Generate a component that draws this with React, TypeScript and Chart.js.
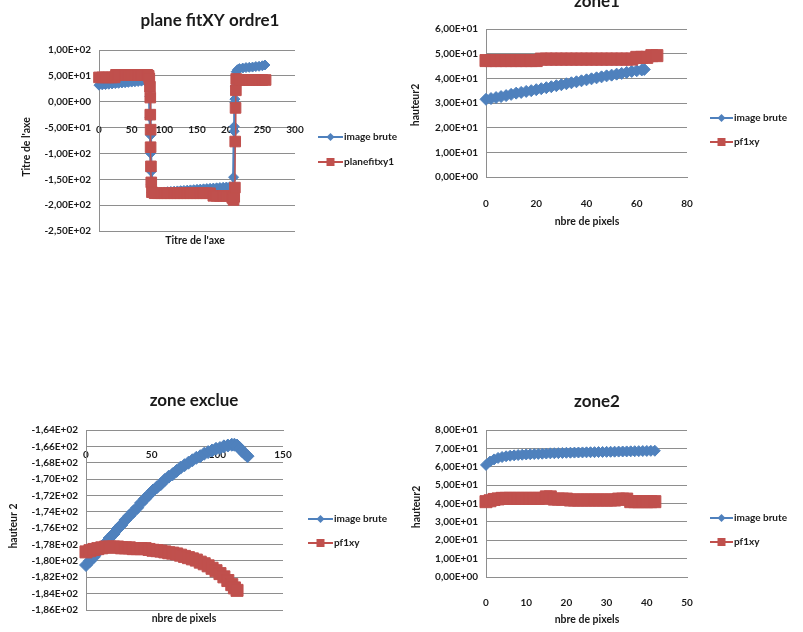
import React, { useEffect, useRef } from "react";
import { Chart, registerables } from "chart.js";

Chart.register(...registerables);

const BLUE = "#4F81BD";
const RED = "#C0504D";
const GRID = "#8E8E8E";
const TEXT = "#1a1a1a";
const FONT = "Lato";

// ---------- Chart 1 : plane fitXY ordre1 ----------
const p1BlueX = [0, 5, 10, 15, 20, 25, 30, 35, 40, 45, 50, 55, 60, 65, 70, 75,
  77, 78, 78, 79, 79, 80, 80, 81,
  85, 90, 95, 100, 105, 110, 115, 120, 125, 130, 135, 140, 145, 150, 155, 160, 165, 170, 175, 180, 185, 190, 195, 200, 205,
  206, 207, 207, 208, 208, 209,
  210, 212, 215, 220, 225, 230, 235, 240, 245, 250, 254];
const p1BlueY = [32, 32.6, 33.2, 33.8, 34.4, 35, 35.6, 36.2, 36.8, 37.4, 38, 38.6, 39.2, 39.8, 40.4, 41,
  35, 10, -30, -65, -100, -135, -160, -176,
  -176, -175.5, -175, -174.5, -174, -173.5, -173, -172.5, -172, -171.5, -171, -170.5, -170, -169.5, -169, -168.5, -168, -167.5, -167, -166.5, -166, -165.5, -165, -164.5, -164,
  -146, -57, -48, -2, 5, 30,
  58, 62, 64, 65, 66, 66.5, 67, 68, 68.5, 69.5, 71];
const p1RedX = [0, 5, 10, 15, 20, 24,
  26, 30, 35, 40, 45, 50, 55, 60, 65, 70, 74,
  76, 77, 78, 78.5, 78.5, 79, 79, 79.5, 80, 81,
  85, 90, 95, 100, 105, 110, 115, 120, 125, 130, 135, 140, 145, 150, 155, 160, 165, 170,
  175, 180, 185, 190, 195, 200, 204, 206, 207, 208,
  208.5, 209, 209.5, 210,
  215, 220, 225, 230, 235, 240, 245, 250, 255];
const p1RedY = [47, 47, 47, 47, 47, 47,
  52, 52, 52, 52, 52, 52, 52, 52, 52, 52, 52,
  50, 45, 29, 8, -25, -54, -88, -125, -156, -175,
  -177, -177, -177, -177, -177, -177, -177, -177, -177, -177, -177, -177, -177, -177, -177, -177, -177, -177,
  -182, -182, -182, -182, -182, -182, -186, -190, -184, -166,
  -77, -12, 22, 44,
  42, 42, 42, 42, 42, 42, 42, 42, 42];

// ---------- Chart 2 : zone1 ----------
const z1BlueX = [0, 2, 4, 6, 8, 10, 12, 14, 16, 18, 20, 22, 24, 26, 28, 30, 32, 34, 36, 38, 40, 42, 44, 46, 48, 50, 52, 54, 56, 58, 60, 62, 63];
const z1BlueY = [31.5, 31.8, 32.2, 32.6, 33.0, 33.5, 34.0, 34.3, 34.7, 35.0, 35.4, 35.8, 36.2, 36.6, 37.0, 37.4, 37.8, 38.2, 38.6, 39.0, 39.4, 39.8, 40.2, 40.6, 41.0, 41.3, 41.7, 42.0, 42.4, 42.8, 43.1, 43.4, 43.6];
const z1RedX = [0, 2, 4, 6, 8, 10, 12, 14, 16, 18, 20, 22, 24, 26, 28, 30, 32, 34, 36, 38, 40, 42, 44, 46, 48, 50, 52, 54, 56, 58, 60, 62, 64, 66, 68];
const z1RedY = [47.2, 47.2, 47.2, 47.2, 47.2, 47.2, 47.2, 47.2, 47.2, 47.2, 47.2,
  47.8, 47.8, 47.8, 47.8, 47.8, 47.8, 47.8, 47.8, 47.8, 47.8, 47.8, 47.8, 47.8, 47.8, 47.8, 47.8, 47.8, 47.8, 47.8,
  48.5, 48.5, 48.5, 49.2, 49.2];

// ---------- Chart 3 : zone exclue ----------
const zeBlueX = [0, 3, 6, 9, 12, 15, 18, 21, 24, 27, 30, 33, 36, 39, 42, 45, 48, 51, 54, 57, 60, 63, 66, 69, 72, 75, 78, 81, 84, 87, 90, 93, 96, 99, 102, 105, 108, 111, 113, 115, 117, 119, 121, 123];
const zeBlueY = [-180.5, -180.0, -179.5, -178.9, -178.4, -177.8, -177.2, -176.7, -176.1, -175.6, -175.0, -174.5, -174.0, -173.5, -172.9, -172.4, -171.9, -171.4, -171.0, -170.6, -170.1, -169.7, -169.4, -169.0, -168.6, -168.3, -168.0, -167.7, -167.4, -167.2, -166.9, -166.7, -166.5, -166.3, -166.2, -166.0, -165.9, -165.8, -165.8, -165.9, -166.2, -166.6, -166.9, -167.2];
const zeRedX = [0, 3, 6, 9, 12, 15, 18, 21, 24, 27, 30, 33, 36, 39, 42, 45, 48, 51, 54, 57, 60, 63, 66, 69, 72, 75, 78, 81, 84, 87, 90, 93, 96, 99, 102, 105, 108, 111, 113, 115];
const zeRedY = [-178.9, -178.75, -178.6, -178.5, -178.4, -178.3, -178.3, -178.3, -178.3, -178.4, -178.4, -178.4, -178.5, -178.5, -178.5, -178.5, -178.6, -178.7, -178.75, -178.8, -178.9, -179.0, -179.05, -179.15, -179.3, -179.45, -179.6, -179.75, -179.9, -180.15, -180.35, -180.6, -180.9, -181.2, -181.55, -181.95, -182.4, -182.9, -183.3, -183.6];

// ---------- Chart 4 : zone2 ----------
const z2BlueX = [0, 1, 2, 3, 4, 5, 6, 7, 8, 9, 10, 11, 12, 13, 14, 15, 16, 17, 18, 19, 20, 21, 22, 23, 24, 25, 26, 27, 28, 29, 30, 31, 32, 33, 34, 35, 36, 37, 38, 39, 40, 41, 42];
const z2BlueY = [61, 62.8, 64, 64.8, 65.3, 65.7, 66, 66.2, 66.4, 66.55,
  66.7, 66.8, 66.9, 67, 67.1, 67.2, 67.3, 67.35, 67.4, 67.5,
  67.6, 67.65, 67.7, 67.75, 67.8, 67.85, 67.9, 67.95, 68, 68.05,
  68.1, 68.15, 68.2, 68.25, 68.3, 68.35, 68.4, 68.45, 68.5, 68.55,
  68.6, 68.65, 68.7];
const z2RedX = [0, 1, 2, 3, 4, 5, 6, 7, 8, 9, 10, 11, 12, 13, 14, 15, 16, 17, 18, 19, 20, 21, 22, 23, 24, 25, 26, 27, 28, 29, 30, 31, 32, 33, 34, 35, 36, 37, 38, 39, 40, 41, 42];
const z2RedY = [41, 41.5, 42.2, 42.5, 42.8,
  42.8, 42.8, 42.8, 42.8, 42.8, 42.8, 42.8, 42.8, 42.8, 42.8,
  43.6, 43.6,
  42.4, 42.4, 42.4, 42.4,
  41.9, 41.9, 41.9, 41.9, 41.9, 41.9, 41.9, 41.9, 41.9, 41.9, 41.9, 41.9,
  42.4, 42.4, 42.4,
  41, 41, 41, 41, 41, 41, 41];

const LABEL_BRUTE = "image brute";

function sci(v: number): string {
  const s = Number(v).toExponential(2);
  const [m, e] = s.split("e");
  const n = parseInt(e, 10);
  const sign = n < 0 ? "-" : "+";
  const ex = String(Math.abs(n)).padStart(2, "0");
  return m.replace(".", ",") + "E" + sign + ex;
}

type Series = {
  label: string; xs: number[]; ys: number[]; color: string;
  style: "rectRot" | "rect"; radius: number; lineWidth: number; order: number;
};

type PanelDef = {
  left: number; top: number; width: number; height: number;
  area: { left: number; top: number; right: number; bottom: number };
  x: { min: number; max: number; step: number; at: number; pad: number };
  y: { min: number; max: number; step: number };
  series: Series[];
  title: string; titlePos: [number, number];
  xTitle: string; xTitlePos: [number, number];
  yTitle: string; yTitlePos: [number, number];
  legend: { x0: number; x1: number; ys: number[]; r: number };
};

const PANELS: PanelDef[] = [
  {
    left: 0, top: 0, width: 400, height: 260,
    area: { left: 99, top: 50, right: 295, bottom: 231 },
    x: { min: 0, max: 300, step: 50, at: 0, pad: 14 },
    y: { min: -250, max: 100, step: 50 },
    series: [
      { label: LABEL_BRUTE, xs: p1BlueX, ys: p1BlueY, color: BLUE, style: "rectRot", radius: 5, lineWidth: 3, order: 1 },
      { label: "planefitxy1", xs: p1RedX, ys: p1RedY, color: RED, style: "rect", radius: 7.5, lineWidth: 1.5, order: 0 },
    ],
    title: "plane fitXY ordre1", titlePos: [210, 26],
    xTitle: "Titre de l'axe", xTitlePos: [195, 241],
    yTitle: "Titre de l'axe", yTitlePos: [27, 147],
    legend: { x0: 318, x1: 343, ys: [137, 162], r: 4 },
  },
  {
    left: 400, top: 0, width: 403, height: 240,
    area: { left: 86, top: 29, right: 287, bottom: 177 },
    x: { min: 0, max: 80, step: 20, at: 0, pad: 13 },
    y: { min: 0, max: 60, step: 10 },
    series: [
      { label: LABEL_BRUTE, xs: z1BlueX, ys: z1BlueY, color: BLUE, style: "rectRot", radius: 6, lineWidth: 3, order: 1 },
      { label: "pf1xy", xs: z1RedX, ys: z1RedY, color: RED, style: "rect", radius: 8.5, lineWidth: 2, order: 0 },
    ],
    title: "zone1", titlePos: [197, 7],
    xTitle: "nbre de pixels", xTitlePos: [187, 222],
    yTitle: "hauteur2", yTitlePos: [16, 105],
    legend: { x0: 310, x1: 333, ys: [118, 142], r: 4 },
  },
  {
    left: 0, top: 380, width: 400, height: 252,
    area: { left: 86, top: 50, right: 283, bottom: 230 },
    x: { min: 0, max: 150, step: 50, at: -164, pad: 10.5 },
    y: { min: -186, max: -164, step: 2 },
    series: [
      { label: LABEL_BRUTE, xs: zeBlueX, ys: zeBlueY, color: BLUE, style: "rectRot", radius: 6.5, lineWidth: 3, order: 1 },
      { label: "pf1xy", xs: zeRedX, ys: zeRedY, color: RED, style: "rect", radius: 8.5, lineWidth: 2, order: 0 },
    ],
    title: "zone exclue", titlePos: [194, 26],
    xTitle: "nbre de pixels", xTitlePos: [184, 239],
    yTitle: "hauteur 2", yTitlePos: [14, 146],
    legend: { x0: 308, x1: 333, ys: [139, 163], r: 4 },
  },
  {
    left: 400, top: 380, width: 403, height: 252,
    area: { left: 86, top: 50, right: 287, bottom: 197 },
    x: { min: 0, max: 50, step: 10, at: 0, pad: 11.5 },
    y: { min: 0, max: 80, step: 10 },
    series: [
      { label: LABEL_BRUTE, xs: z2BlueX, ys: z2BlueY, color: BLUE, style: "rectRot", radius: 5.5, lineWidth: 3, order: 1 },
      { label: "pf1xy", xs: z2RedX, ys: z2RedY, color: RED, style: "rect", radius: 8.5, lineWidth: 2, order: 0 },
    ],
    title: "zone2", titlePos: [197, 27],
    xTitle: "nbre de pixels", xTitlePos: [187, 240],
    yTitle: "hauteur2", yTitlePos: [17, 127],
    legend: { x0: 310, x1: 333, ys: [138, 162], r: 4 },
  },
];

function drawMarker(ctx: CanvasRenderingContext2D, style: string, cx: number, cy: number, r: number, color: string) {
  ctx.fillStyle = color;
  ctx.beginPath();
  if (style === "rectRot") {
    ctx.moveTo(cx, cy - r);
    ctx.lineTo(cx + r, cy);
    ctx.lineTo(cx, cy + r);
    ctx.lineTo(cx - r, cy);
    ctx.closePath();
  } else {
    ctx.rect(cx - r, cy - r, 2 * r, 2 * r);
  }
  ctx.fill();
}

function decoPlugin(p: PanelDef) {
  return {
    id: "deco",
    afterDraw(chart: any) {
      const ctx: CanvasRenderingContext2D = chart.ctx;
      ctx.save();
      ctx.fillStyle = TEXT;
      ctx.textAlign = "center";
      ctx.textBaseline = "alphabetic";
      ctx.font = `bold 17px ${FONT}`;
      ctx.fillText(p.title, p.titlePos[0], p.titlePos[1]);

      ctx.font = `bold 10.5px ${FONT}`;
      ctx.textBaseline = "middle";
      ctx.fillText(p.xTitle, p.xTitlePos[0], p.xTitlePos[1]);
      ctx.save();
      ctx.translate(p.yTitlePos[0], p.yTitlePos[1]);
      ctx.rotate(-Math.PI / 2);
      ctx.fillText(p.yTitle, 0, 0);
      ctx.restore();

      const lg = p.legend;
      p.series.forEach((s, i) => {
        const y = lg.ys[i];
        ctx.strokeStyle = s.color;
        ctx.lineWidth = 2;
        ctx.beginPath();
        ctx.moveTo(lg.x0, y);
        ctx.lineTo(lg.x1, y);
        ctx.stroke();
        drawMarker(ctx, s.style, (lg.x0 + lg.x1) / 2, y, lg.r, s.color);
        ctx.fillStyle = TEXT;
        ctx.textAlign = "left";
        ctx.textBaseline = "middle";
        ctx.font = `bold 10px ${FONT}`;
        ctx.fillText(s.label, lg.x1 + 1, y);
      });
      ctx.restore();
    },
  };
}

function buildConfig(p: PanelDef): any {
  const tickFont = { family: FONT, size: 10, weight: "bold" as const };
  return {
    type: "scatter",
    data: {
      datasets: p.series.map((s) => ({
        label: s.label,
        data: s.xs.map((x, i) => ({ x, y: s.ys[i] })),
        showLine: true,
        tension: 0,
        borderColor: s.color,
        backgroundColor: s.color,
        borderWidth: s.lineWidth,
        pointStyle: s.style,
        pointRadius: s.radius,
        pointHoverRadius: s.radius,
        pointBorderWidth: 1,
        pointBorderColor: s.color,
        pointBackgroundColor: s.color,
        order: s.order,
        clip: false,
      })),
    },
    options: {
      responsive: false,
      animation: false,
      events: [],
      layout: {
        padding: {
          left: 0,
          top: p.area.top,
          right: p.width - p.area.right,
          bottom: p.height - p.area.bottom,
        },
      },
      plugins: {
        legend: { display: false },
        title: { display: false },
        tooltip: { enabled: false },
      },
      scales: {
        x: {
          type: "linear",
          position: { y: p.x.at },
          min: p.x.min,
          max: p.x.max,
          grid: { display: false },
          border: { display: true, color: GRID, width: 1 },
          ticks: {
            stepSize: p.x.step,
            autoSkip: false,
            maxRotation: 0,
            padding: p.x.pad,
            color: TEXT,
            font: tickFont,
            callback: (v: number) => String(v),
          },
        },
        y: {
          type: "linear",
          position: "left",
          min: p.y.min,
          max: p.y.max,
          grid: { color: GRID, lineWidth: 1, drawTicks: false },
          border: { display: true, color: GRID, width: 1 },
          ticks: {
            stepSize: p.y.step,
            maxTicksLimit: 30,
            padding: 8,
            color: TEXT,
            font: tickFont,
            callback: (v: number) => sci(v),
          },
          afterFit: (scale: any) => {
            scale.width = p.area.left;
          },
        },
      },
    },
    plugins: [decoPlugin(p)],
  };
}

function PanelChart({ p }: { p: PanelDef }) {
  const ref = useRef<HTMLCanvasElement | null>(null);
  useEffect(() => {
    if (!ref.current) return;
    const chart = new Chart(ref.current, buildConfig(p));
    return () => chart.destroy();
  }, [p]);
  return (
    <canvas
      ref={ref}
      width={p.width}
      height={p.height}
      style={{ position: "absolute", left: p.left, top: p.top, width: p.width, height: p.height }}
    />
  );
}

export default function App() {
  return (
    <div
      style={{
        position: "absolute",
        left: 0,
        top: 0,
        width: 803,
        height: 632,
        background: "#ffffff",
        overflow: "hidden",
      }}
    >
      {PANELS.map((p, i) => (
        <PanelChart key={i} p={p} />
      ))}
    </div>
  );
}
